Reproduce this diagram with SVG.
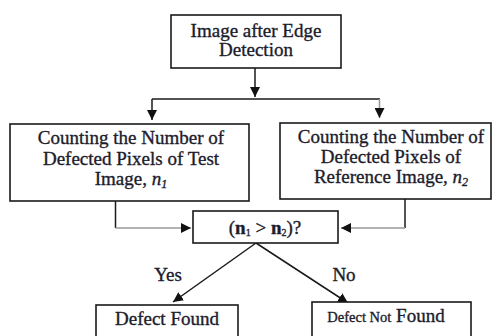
<svg xmlns="http://www.w3.org/2000/svg" width="492" height="336" viewBox="0 0 492 336">
<style>
.box{fill:#fff;stroke:#1a1a1a;stroke-width:1.6}
.t{font-family:"Liberation Serif","Times New Roman",serif;font-size:19px;fill:#1c1c2c;stroke:#1c1c2c;stroke-width:0.35;text-anchor:middle}
.ln{fill:none;stroke:#1a1a1a;stroke-width:1.5}
.gl{fill:none;stroke:#9a9a9a;stroke-width:1.6}
</style>
<defs>
<marker id="ah" markerUnits="userSpaceOnUse" markerWidth="10" markerHeight="10" viewBox="0 0 10 10" refX="10" refY="5" orient="auto">
<path d="M0,0 L10,5 L0,10 z" fill="#111"/>
</marker>
</defs>
<rect width="492" height="336" fill="#fff"/>
<g id="connectors">
<line class="ln" x1="255" y1="68" x2="255" y2="97" marker-end="url(#ah)"/>
<polyline class="ln" points="152,99 380,99"/>
<line class="ln" x1="152" y1="99" x2="152" y2="120" marker-end="url(#ah)"/>
<line class="gl" x1="379.5" y1="99" x2="379.5" y2="118" marker-end="url(#ah)"/>
<polyline class="ln" points="115.5,201 115.5,228"/>
<line class="gl" x1="115.5" y1="228" x2="191" y2="228" marker-end="url(#ah)"/>
<polyline class="ln" points="405,199 405,228"/>
<line class="gl" x1="405" y1="228" x2="341" y2="228" marker-end="url(#ah)"/>
<line class="ln" x1="256" y1="243" x2="173" y2="302" marker-end="url(#ah)"/>
<line class="ln" x1="256" y1="243" x2="348" y2="303" marker-end="url(#ah)"/>
<text class="t" x="168" y="281">Yes</text>
<text class="t" x="344" y="281">No</text>
</g>
<g id="edge-detection">
<rect class="box" x="171" y="15" width="170" height="53"/>
<text class="t" x="256" y="37">Image after Edge</text>
<text class="t" x="256" y="56">Detection</text>
</g>
<g id="count-test">
<rect class="box" x="10" y="124" width="239" height="77"/>
<text class="t" x="131" y="144">Counting the Number of</text>
<text class="t" x="131" y="165">Defected Pixels of Test</text>
<text class="t" x="131" y="185">Image, <tspan font-style="italic">n</tspan><tspan font-style="italic" font-size="12" dy="3">1</tspan></text>
</g>
<g id="count-ref">
<rect class="box" x="280" y="123" width="211" height="76"/>
<text class="t" x="391" y="143">Counting the Number of</text>
<text class="t" x="391" y="163">Defected Pixels of</text>
<text class="t" x="391" y="183">Reference Image, <tspan font-style="italic">n</tspan><tspan font-style="italic" font-size="12" dy="3">2</tspan></text>
</g>
<g id="decision">
<rect class="box" x="193" y="211" width="145" height="32"/>
<text class="t" x="265" y="234" font-size="18">(<tspan font-weight="bold">n</tspan><tspan font-size="10" dy="2">1</tspan><tspan dy="-2"> &gt; </tspan><tspan font-weight="bold">n</tspan><tspan font-size="10" dy="2">2</tspan><tspan dy="-2">)?</tspan></text>
</g>
<g id="defect-found">
<rect class="box" x="96" y="305" width="142" height="40"/>
<text class="t" x="167" y="325">Defect Found</text>
</g>
<g id="defect-not-found">
<rect class="box" x="312" y="302" width="159" height="43"/>
<text class="t" x="386" y="322"><tspan font-size="14.5">Defect Not</tspan> Found</text>
</g>
</svg>
